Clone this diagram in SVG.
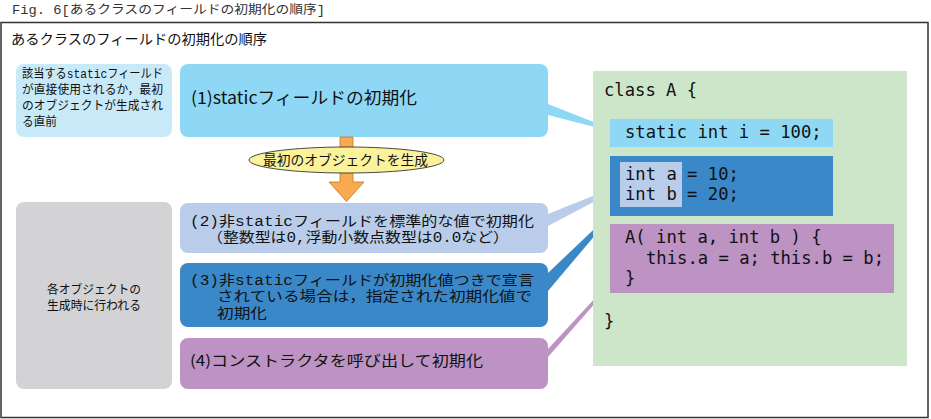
<svg xmlns="http://www.w3.org/2000/svg" width="931" height="419" viewBox="0 0 931 419">
<style>
.jp{font-family:"Noto Sans CJK JP","Noto Sans",sans-serif;fill:#111}
.mj{font-family:"Liberation Mono","Noto Sans CJK JP",monospace;fill:#111}
.code{font-family:"DejaVu Sans Mono","Liberation Mono",monospace;font-size:17.2px;fill:#111}
</style>
<rect width="931" height="419" fill="#fff"/>
<text x="12" y="14" class="mj" font-size="12.5" style="fill:#333" textLength="313" lengthAdjust="spacingAndGlyphs">Fig. 6[あるクラスのフィールドの初期化の順序]</text>
<rect x="1" y="22.5" width="927" height="395" fill="none" stroke="#333" stroke-width="1.5"/>
<text x="11" y="44" class="jp" font-size="14" textLength="256" lengthAdjust="spacingAndGlyphs">あるクラスのフィールドの初期化の順序</text>

<g id="connectors">
<polygon points="548,104 610,128.5 610,131 548,115" fill="#8fd8f5"/>
<polygon points="548,214 620,185 620,188 548,226" fill="#b9cdeb"/>
<polygon points="548,273 610,214 610,217.5 548,291" fill="#3a88c8"/>
<polygon points="548,349 610,282 611,285 548,357" fill="#bc93c3"/>
</g>

<g id="note1">
<rect x="16" y="64" width="156" height="73" rx="8" fill="#c8e9f8"/>
<text class="mj" font-size="12.5" x="22" y="78" textLength="141" lengthAdjust="spacingAndGlyphs">該当するstaticフィールド</text>
<text class="mj" font-size="12.5" x="22" y="94" textLength="141" lengthAdjust="spacingAndGlyphs">が直接使用されるか，最初</text>
<text class="mj" font-size="12.5" x="22" y="110" textLength="141" lengthAdjust="spacingAndGlyphs">のオブジェクトが生成され</text>
<text class="mj" font-size="12.5" x="22" y="126" textLength="35" lengthAdjust="spacingAndGlyphs">る直前</text>
</g>

<g id="step1">
<rect x="180" y="64" width="368" height="73" rx="8" fill="#8fd8f5"/>
<text class="jp" font-size="17" x="191" y="104" textLength="226" lengthAdjust="spacingAndGlyphs">(1)staticフィールドの初期化</text>
</g>

<g id="arrow">
<polygon points="340,137 353,137 353,182 364,182 346.5,201.5 329,182 340,182" fill="#f9a94f" stroke="#b8782c" stroke-width="0.8"/>
</g>
<g id="create">
<ellipse cx="346.5" cy="160" rx="97.5" ry="13" fill="#fbf29c" stroke="#333" stroke-width="0.9"/>
<text class="jp" font-size="13.5" x="263" y="164.5" textLength="165" lengthAdjust="spacingAndGlyphs">最初のオブジェクトを生成</text>
</g>

<g id="note2">
<rect x="16" y="202" width="156" height="187" rx="8" fill="#d3d3d5"/>
<text class="mj" font-size="12.5" x="94" y="294" text-anchor="middle" textLength="94" lengthAdjust="spacingAndGlyphs">各オブジェクトの</text>
<text class="mj" font-size="12.5" x="94" y="310" text-anchor="middle" textLength="94" lengthAdjust="spacingAndGlyphs">生成時に行われる</text>
</g>

<g id="step2">
<rect x="180" y="203" width="368" height="50" rx="8" fill="#b9cdeb"/>
<text class="mj" font-size="14" x="190" y="225.5" textLength="344" lengthAdjust="spacingAndGlyphs">(2)非staticフィールドを標準的な値で初期化</text>
<text class="mj" font-size="14" x="207" y="241.5" textLength="302" lengthAdjust="spacingAndGlyphs">（整数型は0,浮動小数点数型は0.0など）</text>
</g>

<g id="step3">
<rect x="180" y="263" width="368" height="64" rx="8" fill="#3a88c8"/>
<text class="mj" font-size="14" x="190" y="284.5" textLength="344" lengthAdjust="spacingAndGlyphs">(3)非staticフィールドが初期化値つきで宣言</text>
<text class="mj" font-size="14" x="217" y="301" textLength="315" lengthAdjust="spacingAndGlyphs">されている場合は，指定された初期化値で</text>
<text class="mj" font-size="14" x="217" y="317.5" textLength="50" lengthAdjust="spacingAndGlyphs">初期化</text>
</g>

<g id="step4">
<rect x="180" y="338" width="368" height="51" rx="8" fill="#bc93c3"/>
<text class="jp" font-size="15" x="190" y="366" textLength="293" lengthAdjust="spacingAndGlyphs">(4)コンストラクタを呼び出して初期化</text>
</g>

<g id="code">
<rect x="593" y="71" width="314" height="295" fill="#cde6c9"/>
<rect x="610" y="119" width="223" height="28" fill="#8fd8f5"/>
<rect x="610" y="156" width="223" height="60" fill="#3a88c8"/>
<rect x="620" y="162" width="62" height="45" fill="#b9cdeb"/>
<rect x="610" y="224" width="284" height="69" fill="#bc93c3"/>
<text class="code" x="604" y="96">class A {</text>
<text class="code" x="625" y="138">static int i = 100;</text>
<text class="code" x="625" y="180">int a = 10;</text>
<text class="code" x="625" y="200">int b = 20;</text>
<text class="code" x="625" y="243">A( int a, int b ) {</text>
<text class="code" x="646" y="264">this.a = a; this.b = b;</text>
<text class="code" x="625" y="284">}</text>
<text class="code" x="604" y="327">}</text>
</g>
</svg>
